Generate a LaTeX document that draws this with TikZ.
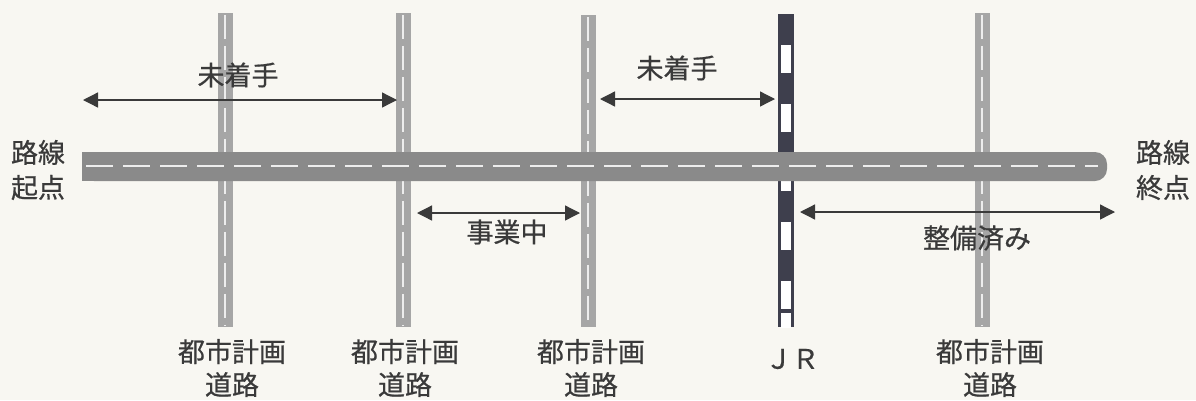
\documentclass[tikz,border=0pt]{standalone}
\usepackage{fontspec}
\newfontfamily\cjk{Noto Sans CJK JP}[FakeBold=0.6]
\usetikzlibrary{arrows.meta}
\definecolor{bg}{HTML}{F8F7F2}
\definecolor{hroad}{HTML}{8A8A8A}
\definecolor{vroad}{HTML}{A6A6A6}
\definecolor{jr}{HTML}{3E3F4D}
\definecolor{ink}{HTML}{3A3A3A}
\definecolor{lane}{HTML}{EDEDED}
\begin{document}
\begin{tikzpicture}[x=1pt,y=-1pt,
  lbl/.style={font=\cjk\fontsize{27}{33}\selectfont, text=ink, align=center, inner sep=0pt},
  lblb/.style={font=\cjk\fontsize{27}{35}\selectfont, text=ink, align=center, inner sep=0pt},
  span/.style={draw=ink, line width=1.3pt, {Triangle[length=15pt,width=15pt]}-{Triangle[length=15pt,width=15pt]}},
  vroadbox/.style={fill=vroad, draw=none, minimum width=15pt, inner sep=0pt},
  vlane/.style={draw=lane, line width=2.2pt, dash pattern=on 24pt off 7pt},
  hlane/.style={draw=lane, line width=2pt, dash pattern=on 27pt off 10pt},
  jrwin/.style={fill=white, draw=none}]
\useasboundingbox (0,0) rectangle (1196,400);
\fill[bg] (0,0) rectangle (1196,400);

% vertical city-planning roads
\node[vroadbox, minimum height=314pt] (r1) at (225,170) {};
\node[vroadbox, minimum height=314pt] (r2) at (403,170) {};
\node[vroadbox, minimum height=312pt] (r3) at (588,171) {};
\node[vroadbox, minimum height=314pt] (r5) at (982,170) {};
\foreach \r in {r1,r2,r3,r5}{
  \draw[vlane] ([yshift=-2pt]\r.north) -- ([yshift=2pt]\r.south);
}

% JR line
\node[fill=jr, minimum width=16pt, minimum height=313pt, inner sep=0pt] (jr) at (786,170.5) {};
\foreach \y in {45,104,163,222,281}{
  \fill[jrwin] (781,\y) rectangle (791,\y+28);
}
\fill[jrwin] (781,313) rectangle (791,327.5);

% main road
\fill[hroad, rounded corners=12pt] (82,152) rectangle (1107,181);
\fill[hroad] (82,152) rectangle (300,181);
\coordinate (hl) at (86,165.5);
\coordinate (hr) at (1098,165.5);
\draw[hlane] (hl) -- (hr);

% spans
\coordinate (a1l) at (83,100);
\coordinate (a1r) at (397,100);
\draw[span] (a1l) -- (a1r);
\node[lbl] (t1) at (238,75) {未着手};

\coordinate (a2l) at (600,99);
\coordinate (a2r) at (775,99);
\draw[span] (a2l) -- (a2r);
\node[lbl] (t2) at (677,68) {未着手};

\coordinate (a3l) at (417,213);
\coordinate (a3r) at (580,213);
\draw[span] (a3l) -- (a3r);
\node[lbl] (t3) at (507,232) {事業中};

\coordinate (a4l) at (800,212);
\coordinate (a4r) at (1115,212);
\draw[span] (a4l) -- (a4r);
\node[lbl] (t4) at (977,238) {整備済み};

% end labels
\node[lblb] (start) at (38,170) {路線\\起点};
\node[lblb] (end) at (1163,170) {路線\\終点};

% bottom labels
\node[lbl] (b1) at (232,368) {都市計画\\道路};
\node[lbl] (b2) at (405,368) {都市計画\\道路};
\node[lbl] (b3) at (591,368) {都市計画\\道路};
\node[lbl] (b4) at (792,359) {ＪＲ};
\node[lbl] (b5) at (990,368) {都市計画\\道路};
\end{tikzpicture}
\end{document}
